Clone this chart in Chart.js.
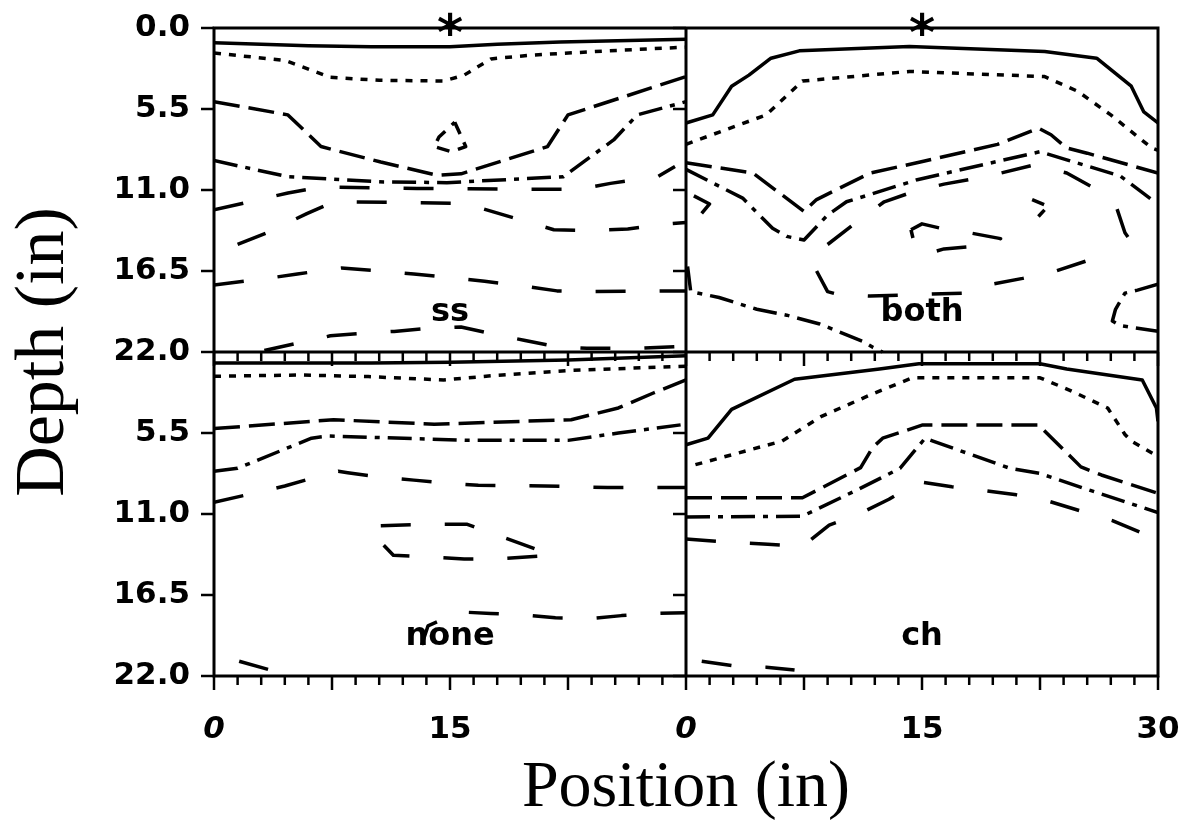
<!DOCTYPE html>
<html>
<head>
<meta charset="utf-8">
<script src="https://cdn.jsdelivr.net/npm/chart.js@4.4.1/dist/chart.umd.min.js"></script>
<style>
  html, body { margin: 0; padding: 0; background: #fff; }
</style>
</head>
<body>
<canvas id="myChart" width="1186" height="822"></canvas>
<script>
// axis ticks (depth runs 0-22 in each row, position 0-30 in each column)
const depthTicks = [0, 5.5, 11, 16.5, 22, 27.5, 33, 38.5, 44];
const depthLabels = ['0.0', '5.5', '11.0', '16.5', '22.0', '5.5', '11.0', '16.5', '22.0'];
const positionTicks = [0, 15, 30, 45, 60];
const positionLabels = ['0', '15', '0', '15', '30'];
const panelNames = ['ss', 'both', 'none', 'ch'];
const starredPanels = ['ss', 'both'];

// contours, [position, depth] in inches
// ss
const ssSolid = [[0,1.0],[6,1.2],[10,1.27],[15,1.27],[18,1.1],[22,0.95],[30,0.77]];
const ssDotted = [[0,1.7],[4.5,2.2],[7.4,3.35],[10.5,3.55],[14.6,3.6],[15.9,3.2],[17.6,2.1],[20.1,1.85],[25,1.55],[30,1.3]];
const ssLongDash = [[0,5.0],[4.7,5.9],[6.8,8.05],[10.6,9.1],[14.2,10.0],[15.7,9.9],[21.2,8.05],[22.5,5.9],[30,3.3]];
const ssDashDot = [[0,9.0],[4.7,10.1],[10.8,10.45],[14.8,10.5],[22.2,10.1],[25.4,7.6],[26.9,5.9],[30,5.0]];
const ssLoop = [[15.3,6.4],[16.0,8.05],[15.1,8.4],[14.0,8.05],[14.3,7.4],[15.3,6.4]];
const ssDash1 = [[0,12.35],[2.5,11.75],[4.7,11.2],[6.8,10.8],[12.9,10.9],[20.9,10.95],[23.2,10.95],[25.2,10.55],[28.2,10.1],[29.3,9.4]];
const ssDash2 = [[1.5,14.7],[3.4,13.9],[5.9,12.6],[7.4,11.9],[8.5,11.8],[12.5,11.85],[15.3,11.9],[17.0,12.25],[19.7,13.1],[21.6,13.7],[24.2,13.75],[26.3,13.65],[28.8,13.3],[30,13.2]];
const ssDash3 = [[0,17.45],[3.4,17.0],[5.3,16.7],[8.1,16.3],[10.0,16.45],[12.7,16.7],[14.6,16.9],[17.2,17.2],[19.2,17.45],[21.8,17.85],[23.9,17.9],[28.5,17.85],[30,17.85]];
const ssDash4 = [[3.2,21.9],[5.3,21.4],[7.4,20.9],[9.3,20.75],[11.45,20.6],[13.6,20.4],[15.7,20.3],[17.6,20.75],[19.7,21.2],[21.6,21.6],[23.7,21.75],[27,21.75],[30,21.6]];

// both
const bothSolid = [[0,6.45],[1.7,5.9],[2.9,3.95],[4.0,3.2],[5.4,2.05],[7.2,1.55],[14.2,1.25],[22.8,1.6],[26.1,2.05],[28.3,3.95],[29.1,5.7],[30,6.45]];
const bothDotted = [[0,7.9],[5.1,5.9],[7.4,3.6],[14.2,2.95],[22.8,3.3],[24.9,4.3],[27.0,5.9],[29.6,8.15],[30,8.3]];
const bothLongDash = [[0,9.15],[4.25,9.85],[7.5,12.45],[8.3,11.65],[11.7,9.85],[15.1,9.05],[19.8,7.9],[22.4,6.8],[23.2,7.25],[24.2,8.15],[25.5,8.5],[30,9.85]];
const bothDashDot = [[0,9.6],[3.6,11.55],[5.5,13.6],[6.4,14.15],[7.5,14.4],[9.0,12.7],[10.2,11.8],[14.7,10.3],[22.5,8.4],[24.2,8.95],[27.6,10.05],[29.6,11.65]];
const bothDash1 = [[9.0,14.7],[10.7,13.3],[12.6,11.8],[14.5,11.1],[16.4,10.6],[18.5,10.2],[20.0,9.85],[22.1,9.3],[24.2,9.85],[25.9,10.85]];
const bothFrag = [[0.5,11.4],[1.5,11.95],[0.75,12.9]];
const bothLoop = [[14.3,13.7],[15.0,13.3],[16.2,13.6],[18.0,13.9],[20.0,14.3],[18.5,14.8],[16.4,15.0],[15.1,15.4],[14.5,14.6],[14.3,13.7]];
const bothHook = [[22.0,11.65],[23.0,12.1],[22.4,12.8]];
const bothRight = [[27.4,12.3],[27.9,13.9],[28.1,14.2],[27.6,14.6]];
const bothDash2 = [[8.3,16.5],[9.0,17.9],[9.7,18.1],[11.7,18.2],[17.6,18.0],[19.4,17.4],[21.4,17.0],[23.5,16.5],[25.5,15.8]];
const bothDashDot2 = [[0.1,16.2],[0.3,17.9],[2.1,18.3],[4.5,19.1],[6.4,19.5],[8.5,20.1],[11.3,21.3],[11.9,21.7],[12.5,22]];
const bothDashDot3 = [[30,17.4],[28.7,17.8],[27.9,18.0],[27.3,19.1],[27.1,19.9],[27.6,20.2],[30,20.6]];

// none
const noneSolid = [[0,0.75],[10,0.75],[15,0.7],[22.5,0.55],[30,0.25]];
const noneDotted = [[0,1.65],[5.5,1.56],[9.8,1.67],[14.6,1.9],[17.8,1.6],[22.5,1.26],[30,0.96]];
const noneLongDash = [[0,5.2],[7.6,4.6],[14,4.9],[22.7,4.6],[25.7,3.8],[28,2.75],[30,1.9]];
const noneDashDot = [[0,8.1],[1.5,7.9],[6.2,5.85],[7.25,5.7],[16.1,6.0],[22.5,6.0],[25.7,5.5],[30,4.9]];
const noneDash1 = [[0,10.2],[2.5,9.6],[4.5,9.1],[6.6,8.45],[7.9,8.1],[8.5,8.2],[10.6,8.5],[12.7,8.7],[14.7,8.9],[16.8,9.05],[21,9.1],[25,9.2],[30,9.2]];
const noneLoop = [[10.6,11.8],[13.4,11.7],[16.1,11.7],[17.9,12.4],[20.5,13.4],[21.5,13.8],[18.0,14.05],[15.9,14.05],[13.4,13.9],[11.4,13.8],[10.5,12.8],[10.6,11.8]];
const noneDash2 = [[13.2,19.9],[13.6,18.6],[15.6,17.65],[17.6,17.75],[19.7,17.85],[21.7,18.05],[23.9,18.1],[25.9,17.9],[28,17.75],[30,17.7]];
const noneDash3 = [[1.6,21.0],[3.6,21.6],[4.5,22]];

// ch
const chSolid = [[0,6.3],[1.4,5.85],[2.9,3.9],[6.9,1.85],[12.3,1.15],[14.8,0.8],[22.5,0.8],[24.2,1.15],[29.0,1.9],[29.9,3.8],[30,4.7]];
const chDotted = [[0.6,7.65],[6.1,6.05],[8.65,4.35],[11.85,2.85],[14.4,1.75],[22.5,1.75],[24.4,2.6],[26.8,3.8],[27.9,5.6],[28.3,6.05],[30,7.1]];
const chLongDash = [[0,9.9],[7.4,9.9],[11.1,7.85],[11.85,6.5],[12.5,5.85],[15.05,4.95],[22.4,4.95],[25.1,7.8],[26.4,8.35],[30,9.6]];
const chDashDot = [[0,11.2],[7.4,11.15],[11.0,9.3],[13.6,7.9],[15.2,5.85],[15.7,6.05],[20.6,7.9],[22.5,8.25],[25.7,9.4],[30,10.9]];
const chDash1 = [[0,12.7],[3.3,12.95],[5.2,13.05],[7.4,13.2],[9.1,11.75],[11,11.0],[12.9,10.0],[14.8,8.8],[16.9,9.15],[18.9,9.4],[21,9.7],[23.1,10.15],[25.1,10.8],[27.1,11.45],[29,12.3]];
const chDash2 = [[1.0,21.0],[3.0,21.3],[5.1,21.4],[6.9,21.6]];

const dashStyles = {
  solid: [],
  dot: [7, 8],
  long: [26, 9],
  dashDot: [24, 8, 5, 8],
  dash: [30, 34],
  short: [13, 9]
};

const panels = [
  { name: 'ss', dx: 0, dy: 0, lines: [
    [ssSolid, 'solid'], [ssDotted, 'dot'], [ssLongDash, 'long'], [ssDashDot, 'dashDot'], [ssLoop, 'short'],
    [ssDash1, 'dash'], [ssDash2, 'dash'], [ssDash3, 'dash'], [ssDash4, 'dash']] },
  { name: 'both', dx: 30, dy: 0, lines: [
    [bothSolid, 'solid'], [bothDotted, 'dot'], [bothLongDash, 'long'], [bothDashDot, 'dashDot'],
    [bothDash1, 'dash'], [bothFrag, 'dash'], [bothLoop, 'dash'], [bothHook, 'short'], [bothRight, 'dash'],
    [bothDash2, 'dash'], [bothDashDot2, 'dashDot'], [bothDashDot3, 'dashDot']] },
  { name: 'none', dx: 0, dy: 22, lines: [
    [noneSolid, 'solid'], [noneDotted, 'dot'], [noneLongDash, 'long'], [noneDashDot, 'dashDot'],
    [noneDash1, 'dash'], [noneLoop, 'dash'], [noneDash2, 'dash'], [noneDash3, 'dash']] },
  { name: 'ch', dx: 30, dy: 22, lines: [
    [chSolid, 'solid'], [chDotted, 'dot'], [chLongDash, 'long'], [chDashDot, 'dashDot'],
    [chDash1, 'dash'], [chDash2, 'dash']] }
];

function buildDatasets() {
  let sets = [];
  panels.forEach(p => {
    p.lines.forEach(([pts, style]) => {
      sets.push({
        data: pts.map(pt => ({ x: pt[0] + p.dx, y: pt[1] + p.dy })),
        borderColor: '#000',
        borderWidth: 3.5,
        borderDash: dashStyles[style],
        borderJoinStyle: 'round',
        pointRadius: 0,
        tension: 0,
        fill: false
      });
    });
  });
  return sets;
}

// frame, tick marks, panel names, asterisks
const framePlugin = {
  id: 'frame',
  afterDraw(chart) {
    const { ctx, chartArea: a, scales: { x, y } } = chart;
    const line = (x1, y1, x2, y2) => { ctx.beginPath(); ctx.moveTo(x1, y1); ctx.lineTo(x2, y2); ctx.stroke(); };
    ctx.save();
    ctx.strokeStyle = '#000';
    ctx.setLineDash([]);
    ctx.lineWidth = 3;
    ctx.strokeRect(a.left, a.top, a.right - a.left, a.bottom - a.top);
    const xm = x.getPixelForValue(30), ym = y.getPixelForValue(22);
    line(xm, a.top, xm, a.bottom);
    line(a.left, ym, a.right, ym);

    ctx.lineWidth = 2.5;
    depthTicks.forEach(v => {
      const py = y.getPixelForValue(v);
      [0, 30].forEach(xv => {
        const px = x.getPixelForValue(xv);
        line(px - 13, py, px, py);
      });
    });
    for (let i = 0; i <= 40; i++) {
      const px = x.getPixelForValue(i * 1.5);
      const len = i % 5 === 0 ? 14 : 9;
      [22, 44].forEach(yv => {
        const py = y.getPixelForValue(yv);
        line(px, py, px, py + len);
      });
    }

    ctx.fillStyle = '#000';
    ctx.textAlign = 'center';
    ctx.textBaseline = 'middle';
    ctx.font = 'bold 32px "DejaVu Sans"';
    panels.forEach(p => {
      ctx.fillText(p.name, x.getPixelForValue(15 + p.dx), y.getPixelForValue(19.3 + p.dy));
    });
    ctx.font = 'bold 50px "DejaVu Sans"';
    ctx.textBaseline = 'alphabetic';
    panels.filter(p => starredPanels.includes(p.name)).forEach(p => {
      ctx.fillText('*', x.getPixelForValue(15 + p.dx), y.getPixelForValue(0) + 22);
    });
    ctx.restore();
  }
};

const ctx = document.getElementById('myChart').getContext('2d');
const myChart = new Chart(ctx, {
  type: 'line',
  data: { datasets: buildDatasets() },
  options: {
    responsive: false,
    animation: false,
    layout: { padding: { top: 28, right: 28, left: 0, bottom: 0 } },
    plugins: { legend: { display: false }, tooltip: { enabled: false } },
    scales: {
      x: {
        type: 'linear', min: 0, max: 60,
        afterFit: s => { s.height = 146; s.paddingLeft = 0; s.paddingRight = 0; },
        afterBuildTicks: s => { s.ticks = positionTicks.map(v => ({ value: v })); },
        grid: { display: false, drawTicks: false },
        border: { display: false },
        ticks: {
          autoSkip: false, maxRotation: 0, padding: 35, color: '#000',
          callback: (v, i) => positionLabels[i],
          font: c => ({ family: 'DejaVu Sans', size: 31, weight: 'bold',
            style: positionLabels[c.index] === '0' ? 'italic' : 'normal' })
        },
        title: { display: true, text: 'Position (in)', color: '#000', padding: 0,
          font: { family: 'Liberation Serif', size: 66, lineHeight: 1 } }
      },
      y: {
        type: 'linear', min: 0, max: 44, reverse: true,
        afterFit: s => { s.width = 214; s.paddingTop = 0; s.paddingBottom = 0; },
        afterBuildTicks: s => { s.ticks = depthTicks.map(v => ({ value: v })); },
        grid: { display: false, drawTicks: false },
        border: { display: false },
        ticks: {
          autoSkip: false, padding: 24, color: '#000',
          callback: (v, i) => depthLabels[i],
          font: { family: 'DejaVu Sans', size: 31, weight: 'bold' }
        },
        title: { display: true, text: 'Depth (in)', color: '#000', padding: { top: 10, bottom: 0 },
          font: { family: 'Liberation Serif', size: 70, lineHeight: 1 } }
      }
    }
  },
  plugins: [framePlugin]
});
</script>
</body>
</html>
